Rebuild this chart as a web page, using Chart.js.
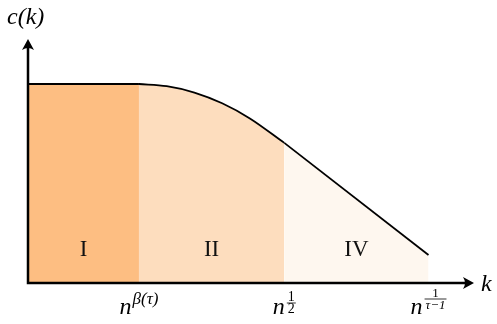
<!DOCTYPE html>
<html>
<head>
<meta charset="utf-8">
<script src="https://cdn.jsdelivr.net/npm/chart.js@4/dist/chart.umd.min.js"></script>
<style>
  html, body { margin: 0; padding: 0; background: #fff; }
</style>
</head>
<body>
<canvas id="chart" width="497" height="324"></canvas>
<script>
// regions and their edges along k
const regions = ['I', 'II', 'IV'];
const edges = [0, 1, 2.31, 3.61];
const regionColors = ['#fdbe82', '#fdddbe', '#fef7ef'];

// c(k)
const flatK = [0, 1];
const flatC = [1, 1];
const bendK = [1, 1.25, 1.5, 1.75, 2, 2.31];
const bendC = [1, 0.989, 0.957, 0.903, 0.827, 0.704];
const tailK = [2.31, 3.61];
const tailC = [0.704, 0.141];

// tick labels at the region edges: base and exponent
const tickBase = ['n', 'n', 'n'];
const tickExp = ['β(τ)', '1/2', '1/(τ−1)'];

const serif = '"Liberation Serif", serif';

function pts(xs, ys) {
    return xs.map((x, i) => ({ x: x, y: ys[i] }));
}

function arrowHead(ctx, x, y, dir) {
    // latex style arrow tip
    ctx.save();
    ctx.translate(x, y);
    if (dir === 'up') ctx.rotate(-Math.PI / 2);
    ctx.beginPath();
    ctx.moveTo(0, 0);
    ctx.lineTo(-11, -6);
    ctx.quadraticCurveTo(-7, 0, -11, 6);
    ctx.closePath();
    ctx.fillStyle = '#000';
    ctx.fill();
    ctx.restore();
}

function drawTick(ctx, cx, baseline, base, exp) {
    ctx.textBaseline = 'alphabetic';
    ctx.textAlign = 'left';
    ctx.font = 'italic 24px ' + serif;
    const bw = ctx.measureText(base).width;
    const slash = exp.indexOf('/');
    if (slash < 0) {
        ctx.font = 'italic 17px ' + serif;
        const ew = ctx.measureText(exp).width;
        const x = cx - (bw + ew + 1) / 2;
        ctx.font = 'italic 24px ' + serif;
        ctx.fillText(base, x, baseline);
        ctx.font = 'italic 17px ' + serif;
        ctx.fillText(exp, x + bw + 1, baseline - 10);
        return;
    }
    const num = exp.slice(0, slash);
    const den = exp.slice(slash + 1).replace(/^\(/, '').replace(/\)$/, '');
    const long = den.length > 1;
    const small = long ? 13 : 14;
    ctx.font = 'italic ' + small + 'px ' + serif;
    const nw = ctx.measureText(num).width;
    const dw = ctx.measureText(den).width;
    const fw = Math.max(nw, dw) + 2;
    const x = cx - (bw + fw + 2) / 2;
    ctx.font = 'italic 24px ' + serif;
    ctx.fillText(base, x, baseline);
    const fx = x + bw + 2;
    const barY = long ? baseline - 15 : baseline - 11;
    ctx.textAlign = 'center';
    ctx.font = small + 'px ' + serif;
    ctx.fillText(num, fx + fw / 2, barY - 2);
    ctx.font = (long ? 'italic ' : '') + small + 'px ' + serif;
    ctx.fillText(den, fx + fw / 2, barY + 10);
    ctx.fillRect(fx, barY - 0.4, fw, 0.8);
}

const decor = {
    id: 'decor',
    afterDraw(chart) {
        const ctx = chart.ctx;
        const xs = chart.scales.x, ys = chart.scales.y;
        const a = chart.chartArea;
        const x0 = xs.getPixelForValue(0), y0 = ys.getPixelForValue(0);

        ctx.save();
        // region names
        ctx.fillStyle = '#111';
        ctx.font = '23px ' + serif;
        ctx.textAlign = 'center';
        ctx.textBaseline = 'middle';
        regions.forEach((r, i) => {
            const cx = (xs.getPixelForValue(edges[i]) + xs.getPixelForValue(edges[i + 1])) / 2;
            ctx.fillText(r, cx, ys.getPixelForValue(0.165));
        });

        // axes with arrows
        ctx.strokeStyle = '#000';
        ctx.lineWidth = 2.5;
        ctx.beginPath();
        ctx.moveTo(x0 - 1.2, y0);
        ctx.lineTo(a.right - 6, y0);
        ctx.moveTo(x0, y0 + 1.2);
        ctx.lineTo(x0, a.top + 6);
        ctx.stroke();
        arrowHead(ctx, a.right, y0, 'right');
        arrowHead(ctx, x0, a.top, 'up');

        // axis names
        ctx.fillStyle = '#000';
        ctx.textAlign = 'left';
        ctx.textBaseline = 'alphabetic';
        ctx.font = 'italic 24px ' + serif;
        ctx.fillText('c(k)', 7, 24);
        ctx.fillText('k', a.right + 7, y0 + 8);

        // tick labels
        tickExp.forEach((e, i) => {
            drawTick(ctx, xs.getPixelForValue(edges[i + 1]), y0 + 31, tickBase[i], e);
        });
        ctx.restore();
    }
};

const lineStyle = {
    borderColor: '#000',
    borderWidth: 1.8,
    pointRadius: 0,
    fill: 'origin',
    clip: false
};

new Chart(document.getElementById('chart'), {
    type: 'line',
    data: {
        datasets: [
            Object.assign({ data: pts(flatK, flatC), backgroundColor: regionColors[0] }, lineStyle),
            Object.assign({ data: pts(bendK, bendC), backgroundColor: regionColors[1], cubicInterpolationMode: 'monotone' }, lineStyle),
            Object.assign({ data: pts(tailK, tailC), backgroundColor: regionColors[2] }, lineStyle)
        ]
    },
    options: {
        responsive: false,
        animation: false,
        devicePixelRatio: 1,
        layout: {
            padding: { left: 28, right: 23, top: 39, bottom: 41 }
        },
        plugins: {
            legend: { display: false },
            tooltip: { enabled: false },
            title: { display: false }
        },
        scales: {
            x: { type: 'linear', display: false, min: 0, max: 4.02 },
            y: { display: false, min: 0, max: 1.226 }
        }
    },
    plugins: [decor]
});
</script>
</body>
</html>
